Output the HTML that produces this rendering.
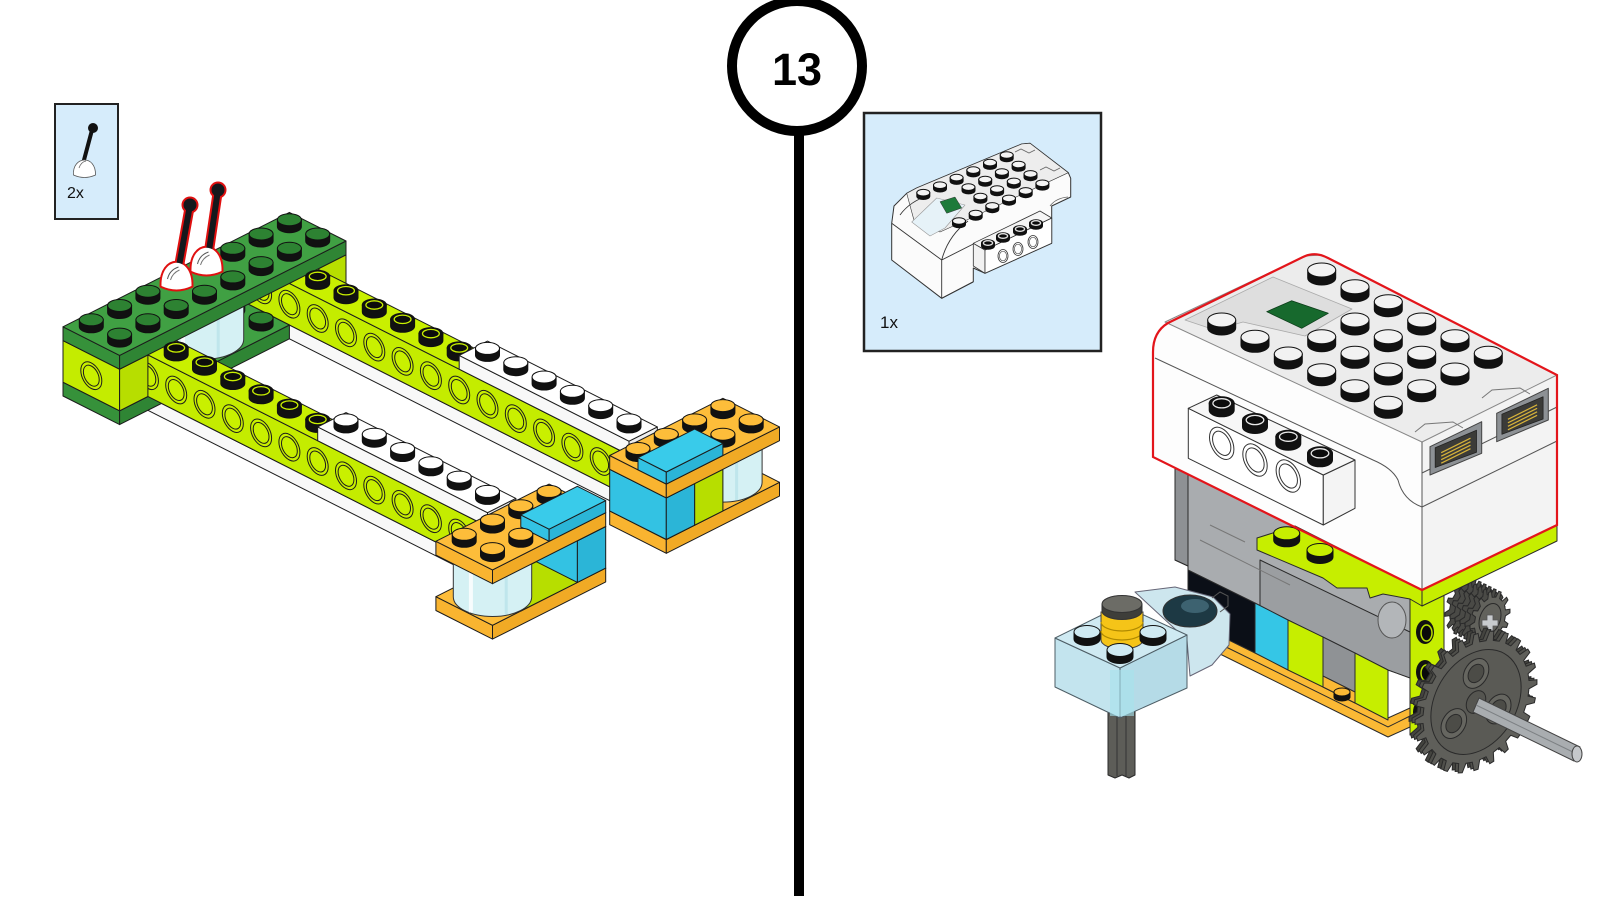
<!DOCTYPE html>
<html><head><meta charset="utf-8"><title>Step 13</title>
<style>
html,body{margin:0;padding:0;background:#fff;}
body{width:1600px;height:900px;overflow:hidden;}
svg{display:block;}
text{font-family:"Liberation Sans",Arial,sans-serif;}
</style></head><body>
<svg id="S" width="1600" height="900" viewBox="0 0 1600 900" xmlns="http://www.w3.org/2000/svg">
<rect width="1600" height="900" fill="#fff"/>
<line x1="799" y1="128" x2="799" y2="896" stroke="#000" stroke-width="10"/>
<circle cx="797" cy="66" r="65" fill="#fff" stroke="#000" stroke-width="10"/>
<text x="797" y="85" text-anchor="middle" font-size="45" font-weight="bold" fill="#000">13</text>

<rect x="55" y="104" width="63" height="115" fill="#d6ecfb" stroke="#222" stroke-width="2"/>
<path d="M92 130 L84 160" stroke="#111" stroke-width="4" stroke-linecap="round" fill="none"/>
<circle cx="93" cy="128" r="5" fill="#111"/>
<path d="M73.5 175 C72 156 96 154 95.5 175 Q84.5 180 73.5 175Z" fill="#fff" stroke="#555" stroke-width="0.8"/>
<path d="M79 168 q2 -6 7 -7" stroke="#666" fill="none" stroke-width="0.8"/>
<text x="67" y="198" font-size="16" fill="#111">2x</text>

<rect x="864" y="113" width="237" height="238" fill="#d6ecfb" stroke="#222" stroke-width="2.5"/>
<g id="H"></g>
<text x="880" y="328" font-size="17" fill="#111">1x</text>
<g id="L"></g>
<g id="R"></g>
</svg>
<script>
(function(){
var NS='http://www.w3.org/2000/svg';
function el(p,t,a){var e=document.createElementNS(NS,t);for(var k in a)e.setAttribute(k,a[k]);p.appendChild(e);return e;}
function f1(n){return Math.round(n*10)/10;}
function pts(a){return a.map(function(p){return f1(p[0])+','+f1(p[1]);}).join(' ');}
var K='#1c1c1c';
function poly(g,p,fill,sw,stroke){return el(g,'polygon',{points:pts(p),fill:fill,stroke:stroke||K,'stroke-width':(sw==null?1:sw),'stroke-linejoin':'round'});}
function path(g,d,fill,stroke,sw,extra){var a={d:d,fill:fill,stroke:stroke||'none','stroke-width':sw||1};if(extra)for(var k in extra)a[k]=extra[k];return el(g,'path',a);}
function stud(g,x,y,rx,ry,sh,top,hollow,ring){
  path(g,'M'+f1(x-rx)+' '+f1(y-sh)+'V'+f1(y)+'A'+rx+' '+ry+' 0 0 0 '+f1(x+rx)+' '+f1(y)+'V'+f1(y-sh)+'Z','#111','#111',1);
  el(g,'ellipse',{cx:f1(x),cy:f1(y-sh),rx:rx,ry:ry,fill:hollow?'#111':top,stroke:'#111','stroke-width':1});
  if(hollow)el(g,'ellipse',{cx:f1(x),cy:f1(y-sh),rx:f1(rx*0.7),ry:f1(ry*0.7),fill:'#0c0c0c',stroke:ring,'stroke-width':1.3});
}

/* ================= LEFT MODEL ================= */
var L=document.getElementById('L');
var OX=0;
function P(u,v,h){return [63+28.3*(u+v)+OX,396+14.3*(u-v)-34.6*h];}
function box(g,u0,u1,v0,v1,h0,h1,c){
  poly(g,[P(u0,v0,h1),P(u1,v0,h1),P(u1,v0,h0),P(u0,v0,h0)],c[1]);
  poly(g,[P(u1,v0,h1),P(u1,v1,h1),P(u1,v1,h0),P(u1,v0,h0)],c[2]);
  poly(g,[P(u0,v0,h1),P(u1,v0,h1),P(u1,v1,h1),P(u0,v1,h1)],c[0]);
}
function sL(u,v,h,top,hollow){var p=P(u,v,h);stud(L,p[0],p[1],12,6,7,top,hollow,top);}
function hole(u,v,h,fill){var p=P(u,v,h);
  [0.37,0.28].forEach(function(r){el(L,'circle',{cx:0,cy:0,r:1,fill:fill,stroke:K,'stroke-width':1,'vector-effect':'non-scaling-stroke',transform:'matrix('+f1(28.3*r)+' '+f1(14.3*r)+' 0 '+f1(34.6*r)+' '+f1(p[0])+' '+f1(p[1])+')'});});
}
function cyl(uc,vc,h0,h1,R,fill){var b=P(uc,vc,h0),t=P(uc,vc,h1),rx=40*R,ry=20.2*R;
  path(L,'M'+f1(b[0]-rx)+' '+f1(t[1])+'V'+f1(b[1])+'A'+rx+' '+ry+' 0 0 0 '+f1(b[0]+rx)+' '+f1(b[1])+'V'+f1(t[1])+'Z',fill,'#333',1);
  path(L,'M'+f1(b[0]-rx*0.55)+' '+f1(t[1]+ry*0.8)+'V'+f1(b[1]+ry*0.8),'none','#ffffff',4,{opacity:0.8});
  path(L,'M'+f1(b[0]+rx*0.35)+' '+f1(t[1]+ry*0.9)+'V'+f1(b[1]+ry*0.9),'none','#b9e4ea',3,{opacity:0.8});
  el(L,'ellipse',{cx:f1(t[0]),cy:f1(t[1]),rx:rx,ry:ry,fill:fill,stroke:'#333','stroke-width':1});
}
var LIME=['#c9f000','#c4ec00','#b7de00'], DG=['#40a043','#36913a','#2f8534'], DGS='#2d8232',
    WH=['#ffffff','#f8f8f8','#eeeeee'], OR=['#fdbd3a','#f9b430','#f1aa25'], BL=['#39cbea','#33c2e3','#2bb5d7'], TR='#d5f1f4';
var u;
box(L,0,2,7,8,0.4,1.6,LIME);
box(L,0,14,6,7,0,0.4,WH);
box(L,0,14,6,7,0.4,1.6,LIME);
for(u=1;u<=13;u++)hole(u,6,1.0,'#c9f000');
box(L,0,2,3,6,0,0.4,DG);
sL(0.5,5.5,0.4,DGS);sL(1.5,5.5,0.4,DGS);
cyl(1,4,0.4,1.6,0.98,TR);
box(L,2,14,1,2,0,0.4,WH);
box(L,0,2,0,2,0,0.4,DG);
box(L,0,14,1,2,0.4,1.6,LIME);
for(u=1;u<=13;u++)hole(u,1,1.0,'#c9f000');
box(L,0,2,0,1,0.4,1.6,LIME);hole(1,0,1.0,'#c9f000');
box(L,0,2,0,8,1.6,2.0,DG);
var ds=[];for(var a=0.5;a<2;a+=1)for(var b=0.5;b<8;b+=1){if(a==0.5&&(b==3.5||b==4.5))continue;ds.push([a,b]);}
ds.sort(function(p,q){return (p[0]-p[1])-(q[0]-q[1]);});
ds.forEach(function(s){sL(s[0],s[1],2.0,DGS,false);});
for(u=2.5;u<8;u+=1)sL(u,6.5,1.6,'#c9f000',true);
box(L,8,14,6,7,1.6,2.0,WH);
for(u=8.5;u<14;u+=1)sL(u,6.5,2.0,'#ffffff');
for(u=2.5;u<8;u+=1)sL(u,1.5,1.6,'#c9f000',true);
box(L,8,14,1,2,1.6,2.0,WH);
for(u=8.5;u<14;u+=1)sL(u,1.5,2.0,'#ffffff');
OX=9;
box(L,14,16,5,9,0,0.4,OR);
cyl(15,8,0.4,1.6,0.98,TR);
box(L,14,16,6,7,0.4,1.6,LIME);
box(L,14,16,5,6,0.4,1.6,BL);
box(L,14,16,5,9,1.6,2.0,OR);
[[14.5,8.5],[15.5,8.5],[14.5,7.5],[15.5,7.5],[14.5,6.5],[14.5,5.5]].sort(function(p,q){return (p[0]-p[1])-(q[0]-q[1]);}).forEach(function(s){sL(s[0],s[1],2.0,OR[0]);});
box(L,15,16,5,7,2.0,2.35,BL);
OX=5;
box(L,14,16,-1,3,0,0.4,OR);
box(L,14,16,0,2,0.4,1.6,LIME);
box(L,14,16,2,3,0.4,1.6,BL);
cyl(15,0,0.4,1.6,0.98,TR);
box(L,14,16,-1,3,1.6,2.0,OR);
sL(14.5,2.5,2.0,OR[0]);sL(14.5,1.5,2.0,OR[0]);
box(L,15,16,1,3,2.0,2.35,BL);
[[14.5,0.5],[14.5,-0.5],[15.5,0.5],[15.5,-0.5]].sort(function(p,q){return (p[0]-p[1])-(q[0]-q[1]);}).forEach(function(s){sL(s[0],s[1],2.0,OR[0]);});
OX=0;
function lever(cx,by,bx,byy){
  var dome='M'+(cx-15)+' '+(by-5)+'C'+(cx-16)+' '+(by-36)+' '+(cx+16)+' '+(by-36)+' '+(cx+15)+' '+(by-5)+'Q'+cx+' '+(by+2)+' '+(cx-15)+' '+(by-5)+'Z';
  var sx=cx+2,sy=by-22;
  el(L,'line',{x1:sx,y1:sy,x2:bx,y2:byy,stroke:'#e01010','stroke-width':10,'stroke-linecap':'round'});
  el(L,'circle',{cx:bx,cy:byy,r:8.5,fill:'#e01010'});
  path(L,dome,'#fff','#e01010',4);
  el(L,'line',{x1:sx,y1:sy,x2:bx,y2:byy,stroke:'#14181c','stroke-width':6,'stroke-linecap':'round'});
  el(L,'circle',{cx:bx,cy:byy,r:6.5,fill:'#14181c'});
  path(L,dome,'#fff','none',0);
  path(L,'M'+(cx-9)+' '+(by-12)+'q2 -9 11 -12','none','#555',1);
  path(L,'M'+(cx-6)+' '+(by-11)+'q2 -7 9 -10','none','#777',1);
}
lever(206.5,276,218,190);
lever(176.5,291,190,205);

/* ================= RIGHT MODEL ================= */
var R=document.getElementById('R');
function rp(p,fill,sw,stroke){return poly(R,p,fill,(sw==null?1:sw),stroke||'#2a2a2a');}
rp([[1108,700],[1135,700],[1135,775],[1129,778],[1122,775],[1115,778],[1108,775]],'#5d5d58');
path(R,'M1117 705V776M1126 705V776','none','#333',1);
rp([[1175,455],[1422,575],[1422,682],[1388,670],[1188,572],[1188,566],[1175,560]],'#a9acaf');
rp([[1175,455],[1188,461],[1188,566],[1175,560]],'#8e9194');
rp([[1260,560],[1410,632],[1410,678],[1388,670],[1260,606]],'#9b9ea1');
path(R,'M1200 540L1290 585M1210 525L1245 542','none','#777',1);
el(R,'ellipse',{cx:1392,cy:620,rx:14,ry:18,fill:'#b3b6b9',stroke:'#555','stroke-width':1});
rp([[1205,628],[1388,718],[1410,708],[1410,727],[1388,737],[1222,655],[1205,647]],'#fbb935');
path(R,'M1222 645L1388 727L1410 716','none','#2a2a2a',1);
rp([[1188,570],[1255,603],[1255,653],[1188,620]],'#0b0f17');
rp([[1255,603],[1288,620],[1288,670],[1255,653]],'#35c6e6');
rp([[1288,620],[1323,637],[1323,687],[1288,670]],'#c6ee00');
rp([[1323,637],[1355,653],[1355,703],[1323,687]],'#8f9295');
rp([[1323,676],[1355,692],[1355,703],[1323,687]],'#fbb935');
stud(R,1342,697,8,4,5,'#fbb935');
rp([[1355,653],[1388,670],[1388,720],[1355,703]],'#c6ee00');
rp([[1410,598],[1444,582],[1444,718],[1410,735]],'#c6ee00');
[[1425,632],[1425,672],[1422,712]].forEach(function(c){el(R,'ellipse',{cx:c[0],cy:c[1],rx:9,ry:12,fill:'#111'});el(R,'ellipse',{cx:c[0]+1.5,cy:c[1]+1,rx:5.5,ry:8,fill:'#0a0a0a',stroke:'#b8e000','stroke-width':1.5});});
rp([[1135,592],[1175,587],[1213,597],[1230,614],[1229,645],[1212,665],[1190,676],[1187,640]],'#cde6ee',1,'#667');
el(R,'ellipse',{cx:1190,cy:611,rx:27,ry:16,fill:'#1d3944',stroke:'#333','stroke-width':1});
el(R,'ellipse',{cx:1195,cy:606,rx:14,ry:7,fill:'#3d6270'});
path(R,'M1212 598l8 -6 8 4 0 10 -8 6','none','#555',1);
rp([[1055,638],[1120,668],[1120,718],[1055,687]],'#c3e4ee',1,'#4e5e66');
rp([[1120,668],[1187,635],[1187,688],[1120,718]],'#b5dbe7',1,'#4e5e66');
rp([[1055,638],[1122,605],[1187,635],[1120,668]],'#cfeaf2',1,'#4e5e66');
el(R,'rect',{x:1110,y:670,width:24,height:46,fill:'#a6e2ec',opacity:0.6});
path(R,'M1101 612V640A21 9 0 0 0 1143 640V612Z','#f5c418','#444',1);
path(R,'M1101 622A21 9 0 0 0 1143 622M1101 631A21 9 0 0 0 1143 631','none','#b08a00',1.2);
path(R,'M1102 604V611A20 8.5 0 0 0 1142 611V604Z','#3e3e3a','#333',1);
el(R,'ellipse',{cx:1122,cy:604,rx:20,ry:8.5,fill:'#6c6c66',stroke:'#333','stroke-width':1});
stud(R,1087,639,13,6.5,7,'#cfeaf2');
stud(R,1153,639,13,6.5,7,'#cfeaf2');
stud(R,1120,657,13,6.5,7,'#cfeaf2');
function gearD(n,ro,ri){var d='',t=2*Math.PI/n;for(var i=0;i<n;i++){var a=i*t;[[ri,a-0.27*t],[ro,a-0.13*t],[ro,a+0.13*t],[ri,a+0.27*t]].forEach(function(q,k){d+=((i==0&&k==0)?'M':'L')+f1(q[0]*Math.cos(q[1]))+' '+f1(q[0]*Math.sin(q[1]));});}return d+'Z';}
function M(a,b,c,dd,e,f){return 'matrix('+a/100+' '+b/100+' '+c/100+' '+dd/100+' '+e+' '+f+')';}
function gp(d,fill,tr){return path(R,d,fill,'#2a2a2a',1,{transform:tr,'vector-effect':'non-scaling-stroke'});}
function gc(cx,cy,r,fill,tr){return el(R,'circle',{cx:cx,cy:cy,r:r,fill:fill,stroke:'#2a2a2a','stroke-width':1,transform:tr,'vector-effect':'non-scaling-stroke'});}
var sg=gearD(12,100,78);
for(var k=5;k>=1;k--)gp(sg,'#4a4a46',M(20,-8,0,27,1490-5*k,619-2.5*k));
gp(sg,'#62625c',M(20,-8,0,27,1490,619));
gc(0,0,55,'none',M(20,-8,0,27,1490,619));
path(R,'M1487 615h6v5h5v6h-5v5h-6v-5h-5v-6h5z','#c8cbce','#555',0.8);
var bg=gearD(24,100,87);
gp(bg,'#44443f',M(61,-20,0,68,1470,699));
gp(bg,'#50504b',M(61,-20,0,68,1473,700.5));
var BT=M(61,-20,0,68,1476,702);
gp(bg,'#5f5f5a',BT);
gc(0,0,74,'#5a5a55',BT);
[-90,30,150].forEach(function(q){var an=q*Math.PI/180;var cx=f1(42*Math.cos(an)),cy=f1(42*Math.sin(an));gc(cx,cy,21,'#666660',BT);gc(cx,cy,13,'#4c4c47',BT);});
gc(0,0,16,'#555550',BT);
rp([[1479,698],[1580,747],[1574,761],[1473,712]],'#a9adb0',1,'#444');
path(R,'M1476 705L1577 754','none','#7d8184',1);
el(R,'ellipse',{cx:1577,cy:754,rx:5,ry:8,fill:'#c5c8cb',stroke:'#444','stroke-width':1});
rp([[1153,352],[1158,330],[1168,320],[1422,442],[1422,590],[1153,457]],'#fdfdfd',0);
rp([[1422,442],[1557,375],[1557,525],[1422,590]],'#f3f3f3',0);
rp([[1165,322],[1305,256],[1322,255],[1557,375],[1422,442]],'#ececec',1,'#888');
rp([[1185,320],[1273,277],[1352,309],[1305,336],[1243,322],[1215,330]],'#dedede',0.8,'#aaa');
rp([[1266.7,311.7],[1291.7,300.7],[1328.3,313.3],[1301.7,328.3]],'#17692d',0.8,'#0d3d1a');
path(R,'M1155 358L1373 460Q1392 468 1398 480Q1403 500 1422 507','none','#555',1);
path(R,'M1422 473L1557 407M1422 507L1557 441M1422 442V590','none','#555',1);
path(R,'M1415 432l10 -8 28 -2 10 6M1482 398l10 -8 28 -2 10 6','none','#777',1);
function port(p){
  rp(p,'#8d9195',1,'#444');
  var c=[(p[0][0]+p[2][0])/2,(p[0][1]+p[2][1])/2];
  var inn=p.map(function(q){return [c[0]+(q[0]-c[0])*0.8,c[1]+(q[1]-c[1])*0.7];});
  rp(inn,'#3b3b38',0.8,'#222');
  for(var k=0;k<4;k++)path(R,'M'+f1(inn[0][0]+6)+' '+f1(inn[0][1]+5+k*3.5)+'L'+f1(inn[1][0]-6)+' '+f1(inn[1][1]+8+k*3.5),'none','#d6b23a',1.3);
}
port([[1430,446.7],[1481.7,421.7],[1481.7,453.3],[1430,475]]);
port([[1496.7,413.3],[1548.3,388.3],[1548.3,420],[1496.7,441.7]]);
var hs=[[1221.7,320],[1255,337.3],[1288.3,354],[1321.7,270],[1355,286.7],[1321.7,336.7],[1321.7,370.7],[1355,320],[1355,353.3],[1355,386.7],[1388.3,301.7],[1388.3,336.7],[1388.3,370],[1388.3,403.3],[1421.7,320],[1421.7,353.3],[1421.7,386.7],[1455,336.7],[1455,370],[1488.3,353.3]];
hs.sort(function(p,q){return p[1]-q[1];});
hs.forEach(function(s){stud(R,s[0],s[1]+8,14,7,8,'#f2f2f2');});
rp([[1188.3,408.3],[1323.3,475],[1323.3,525],[1188.3,458.3]],'#ffffff',1,'#333');
rp([[1323.3,475],[1355,460],[1355,508.3],[1323.3,525]],'#f4f4f4',1,'#333');
rp([[1188.3,408.3],[1216.7,395],[1355,460],[1323.3,475]],'#f7f7f7',1,'#333');
[[1221.7,443.3],[1255,460],[1288.3,476]].forEach(function(c){[1,0.75].forEach(function(r){el(R,'circle',{cx:0,cy:0,r:r,fill:'#fff',stroke:'#333','stroke-width':1,'vector-effect':'non-scaling-stroke',transform:'matrix(12.2 6 0 15 '+c[0]+' '+c[1]+')'});});});
[[1221.7,403.3],[1255,420],[1288.3,436.7],[1320,453.3]].forEach(function(s){stud(R,s[0],s[1]+7,12.5,6.5,7,'#fff',true,'#e8e8e8');});
rp([[1422,590],[1557,525],[1557,541],[1422,606]],'#c6ee00');
rp([[1257,538],[1295,526],[1422,590],[1422,606],[1410,599],[1383,594],[1370,598],[1367,588],[1337,588],[1323,578],[1257,550]],'#c6ee00');
stud(R,1286.7,540.3,13,6.5,7,'#c6ee00');
stud(R,1320,557,13,6.5,7,'#c6ee00');
path(R,'M1153 457V352Q1153 332 1168 323L1303 257Q1315 251 1328 258L1557 375V525L1422 590Z','none','#e3151b',2.2);

/* ================= PARTS BOX HUB ================= */
var H=document.getElementById('H');
function hp(p,fill,sw,st){return poly(H,p,fill,(sw==null?0.8:sw),st||'#333');}
hp([[891.7,223.3],[894,206],[906.7,193.3],[916.7,188],[1021.7,144],[1030,143.3],[1068.3,172.7],[1070.7,178.3],[1070.7,197],[1051.7,206],[1051.7,243.3],[985,273.3],[973.3,268],[973.3,281.7],[941.7,298.3],[891.7,260]],'#fbfbfb',1);
hp([[906.7,193.3],[916.7,188],[1021.7,144],[1030,143.3],[1068.3,172.7],[966.7,220],[940,232],[915,224]],'#ededed',0.6);
hp([[911.7,222],[936.7,198],[965,205],[945,228],[930,236]],'#e6f2f8',0.6,'#999');
hp([[940,201.7],[955,197],[961.7,208],[946.7,213.3]],'#1d7a3a',0.5);
path(H,'M941.7 260V298.3M891.7 223.3L941.7 260L973.3 244M941.7 298.3L973.3 282M941.7 260Q948 236 968 221M900 215q10 -14 30 -20','none','#333',0.9);
path(H,'M1015 152l6 -3 8 4 6 -3M1040 170l6 -3 8 4 6 -3M1050 206q6 -8 18 -9','none','#666',0.8);
var gs=[];for(var i=0;i<4;i++)for(var j=0;j<6;j++){if((i==1||i==2)&&(j==0||j==1))continue;gs.push([923.3+16.67*j+11.9*i,192.7-7.53*j+9.43*i]);}
gs.sort(function(p,q){return p[1]-q[1];});
gs.forEach(function(s){stud(H,s[0],s[1]+3.5,6.5,3.3,3.5,'#f4f4f4');});
hp([[973.3,243.3],[985,250],[985,273.3],[973.3,266]],'#f2f2f2');
hp([[985,250],[1051.7,218],[1051.7,243.3],[985,273.3]],'#fff');
hp([[973.3,243.3],[1040,211],[1051.7,218],[985,250]],'#f6f6f6');
[[1003,256],[1018,249],[1033,242]].forEach(function(c){el(H,'ellipse',{cx:c[0],cy:c[1],rx:5,ry:6.5,fill:'#fff',stroke:'#333','stroke-width':0.8});el(H,'ellipse',{cx:c[0],cy:c[1],rx:3.6,ry:4.8,fill:'none',stroke:'#555','stroke-width':0.7});});
[[1036,223],[1020,229],[1003,236],[988,243]].forEach(function(s){stud(H,s[0],s[1]+3,6.5,3.3,3,'#fff',true,'#ddd');});
})();
</script>
</body></html>
